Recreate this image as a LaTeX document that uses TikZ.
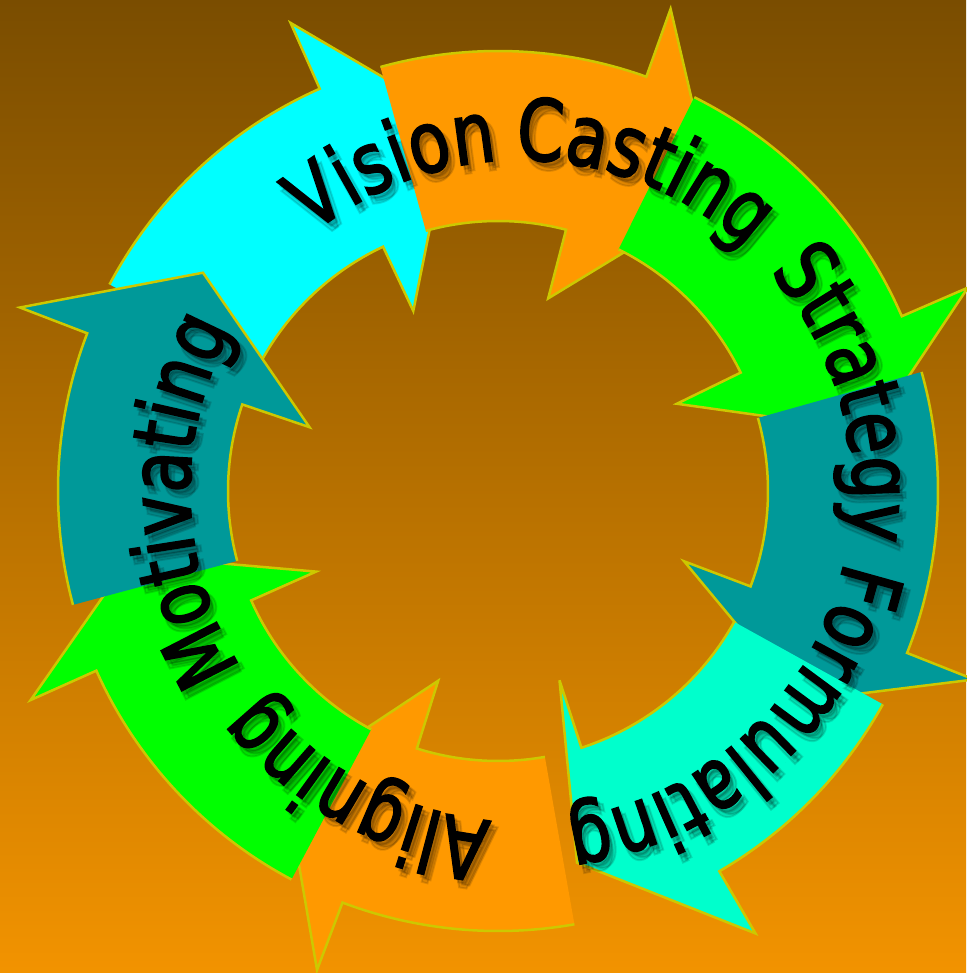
\documentclass[tikz,border=0pt]{standalone}
\usepackage{fontspec}
\newfontfamily\arcfont[FakeStretch=0.79,FakeBold=2.2]{DejaVu Sans}
\usetikzlibrary{decorations.text}
\definecolor{bgtop}{RGB}{122,77,0}
\definecolor{bgmid}{RGB}{190,115,0}
\definecolor{bgbot}{RGB}{242,147,0}
\definecolor{rim}{RGB}{205,200,0}
\definecolor{cteal}{RGB}{0,153,153}
\definecolor{ccyan}{RGB}{0,255,255}
\definecolor{corange}{RGB}{255,153,0}
\definecolor{cgreen}{RGB}{0,255,0}
\definecolor{caqua}{RGB}{0,255,204}
\tikzset{rimline/.style={draw=rim, line width=2.5pt, line join=miter, miter limit=6}}
% color, tail angle, outer barb angle, inner barb angle, tip angle, tip radius
\newcommand\cyclearrow[6]{%
  \fill[#1] (#2:440pt) arc[start angle=#2, end angle=#3, radius=440pt] -- (#3:512pt) -- (#5:#6pt) -- (#4:199pt) -- (#4:270pt) arc[start angle=#4, end angle=#2, radius=270pt] -- cycle;
  \draw[rimline] (#2:440pt) arc[start angle=#2, end angle=#3, radius=440pt] -- (#3:512pt) -- (#5:#6pt) -- (#4:199pt) -- (#4:270pt) arc[start angle=#4, end angle=#2, radius=270pt];
}
% word, centre angle
\newcommand\arcword[2]{%
  \path[decorate, decoration={text along path, text align=center,
    text={|\arcfont\fontsize{85pt}{85pt}\selectfont|#1}}]
    (#2+50:331pt) arc[start angle=#2+50, end angle=#2-50, radius=331pt];
}
\newcommand\allwords{%
  \arcword{Vision}{111.5}
  \arcword{Casting}{69}
  \arcword{Strategy}{16.5}
  \arcword{Formulating}{-47.3}
  \arcword{Aligning}{-118.7}
  \arcword{Motivating}{181.5}
}
\begin{document}
\begin{tikzpicture}
\useasboundingbox (0,0) rectangle (966pt,973pt);
\shade[top color=bgtop, middle color=bgmid, bottom color=bgbot] (0,0) rectangle (966pt,973pt);
\begin{scope}[shift={(498pt,482pt)}]
  \cyclearrow{ccyan}{152}{113.9}{115.2}{97}{376}
  \cyclearrow{corange}{105.5}{70.3}{75.4}{53.6}{365}
  \cyclearrow{cgreen}{63.5}{23.4}{26}{9.1}{379}
  \cyclearrow{cteal}{15.7}{-21.6}{-20.7}{-34.8}{368}
  \cyclearrow{caqua}{-29}{-59.8}{-72}{-78}{380}
  \cyclearrow{corange}{-80}{-110.7}{-107.5}{-126.2}{361}
  \cyclearrow{cgreen}{-118}{-155.9}{-156.1}{-170}{372}
  \cyclearrow{cteal}{195}{159}{161.3}{143.5}{367}
\end{scope}
\begin{scope}[shift={(524pt,478pt)}, opacity=0.12]
  \allwords
\end{scope}
\begin{scope}[shift={(528pt,476pt)}, opacity=0.12]
  \allwords
\end{scope}
\begin{scope}[shift={(525pt,473pt)}, opacity=0.12]
  \allwords
\end{scope}
\begin{scope}[shift={(521pt,482pt)}]
  \allwords
\end{scope}
\end{tikzpicture}
\end{document}
